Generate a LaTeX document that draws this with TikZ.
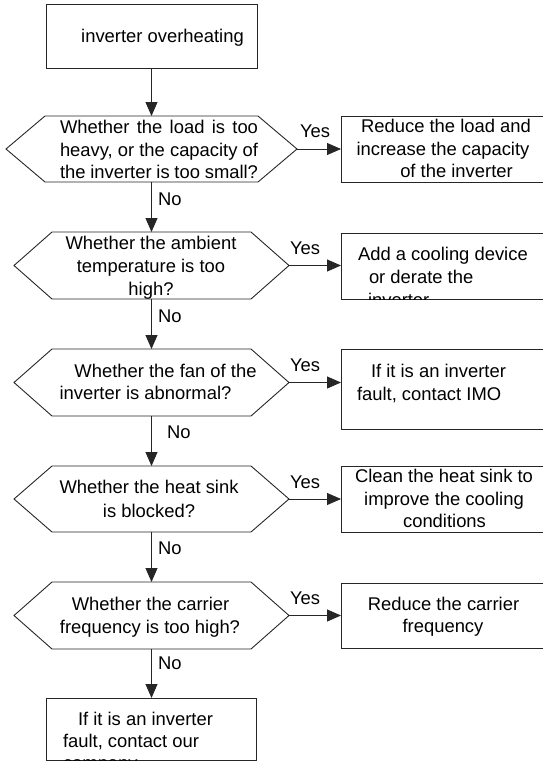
\documentclass[tikz,border=0pt]{standalone}
\usepackage{fontspec}
\setmainfont{Liberation Sans}
\usetikzlibrary{arrows.meta}
\begin{document}
\begin{tikzpicture}[x=1pt,y=-1pt,
  box/.style={draw=black!85, line width=0.9pt, rectangle, inner sep=0pt, outer sep=0pt},
  hexbb/.style={rectangle, inner sep=0pt, outer sep=0pt, draw=none},
  hexline/.style={draw=black!85, line width=0.9pt, line join=miter},
  txt/.style={inner sep=0pt, outer sep=0pt, anchor=base, font=\fontsize{18.4}{22}\selectfont, text=black},
  txtw/.style={txt, anchor=base west},
  conn/.style={draw=black!85, line width=0.9pt, -{Triangle[length=14pt,width=12pt]}}]
\useasboundingbox (0,0) rectangle (543,763);
\clip (0,0) rectangle (543,763);

% shape nodes
\node[box, minimum width=211pt, minimum height=64pt] (b0) at (151.5,36) {};
\node[hexbb, minimum width=291pt, minimum height=66pt] (h1) at (151.5,149) {};
\node[hexbb, minimum width=275pt, minimum height=67pt] (h2) at (151.5,265.5) {};
\node[hexbb, minimum width=275pt, minimum height=67pt] (h3) at (151.5,382.5) {};
\node[hexbb, minimum width=275pt, minimum height=66pt] (h4) at (151.5,499) {};
\node[hexbb, minimum width=275pt, minimum height=67pt] (h5) at (151.5,615.5) {};
\node[box, minimum width=219pt, minimum height=66pt] (r1) at (450.5,149) {};
\node[box, minimum width=219pt, minimum height=66pt] (r2) at (450.5,266) {};
\node[box, minimum width=219pt, minimum height=80pt] (r3) at (450.5,389) {};
\node[box, minimum width=219pt, minimum height=66pt] (r4) at (450.5,499) {};
\node[box, minimum width=219pt, minimum height=65pt] (r5) at (450.5,615.5) {};
\node[box, minimum width=210pt, minimum height=62pt] (b6) at (151.5,729) {};

% hexagons
\foreach \h/\d in {h1/39,h2/38,h3/38,h4/38,h5/38}{
  \draw[hexline] (\h.west) -- ([xshift=\d pt]\h.north west) -- ([xshift=-\d pt]\h.north east)
    -- (\h.east) -- ([xshift=-\d pt]\h.south east) -- ([xshift=\d pt]\h.south west) -- cycle;
}

% texts
\node[txt] (t0) at (162.5,42.5) {inverter overheating};

\node[txt] (t1a) at (159,133.5) {\makebox[198pt][s]{Whether the load is too}};
\node[txt] (t1b) at (159,156) {\makebox[198pt][s]{heavy, or the capacity of}};
\node[txt] (t1c) at (159,178) {\makebox[198pt][s]{the inverter is too small?}};

\node[txt] (s1a) at (446,132) {Reduce the load and};
\node[txt] (s1b) at (443,155) {increase the capacity};
\node[txt] (s1c) at (456.5,177) {of the inverter};

\node[txt] (t2a) at (151,249) {Whether the ambient};
\node[txt] (t2b) at (151,272) {temperature is too};
\node[txt] (t2c) at (151,295) {high?};

\begin{scope}
  \clip (r2.north west) rectangle (r2.south east);
  \node[txtw] (s2a) at (358,260) {Add a cooling device};
  \node[txtw] (s2b) at (369,283) {or derate the};
  \node[txtw] (s2c) at (368,306) {inverter};
\end{scope}

\node[txt] (t3a) at (165.5,377) {Whether the fan of the};
\node[txt] (t3b) at (145.5,399) {inverter is abnormal?};

\node[txtw] (s3a) at (371,377) {If it is an inverter};
\node[txtw] (s3b) at (357,400) {fault, contact IMO};

\node[txt] (t4a) at (149,493) {Whether the heat sink};
\node[txt] (t4b) at (149,517) {is blocked?};

\node[txt] (s4a) at (444,482) {Clean the heat sink to};
\node[txt] (s4b) at (444,505) {improve the cooling};
\node[txt] (s4c) at (444.5,527) {conditions};

\node[txt] (t5a) at (150.5,610) {Whether the carrier};
\node[txt] (t5b) at (150,633) {frequency is too high?};

\node[txt] (s5a) at (443.5,610) {Reduce the carrier};
\node[txt] (s5b) at (443,632) {frequency};

\begin{scope}
  \clip (b6.north west) rectangle (b6.south east);
  \node[txtw] (t6a) at (78,725) {If it is an inverter};
  \node[txtw] (t6b) at (63,747) {fault, contact our};
  \node[txtw] (t6c) at (63,769) {company};
\end{scope}

% connectors
\draw[conn] (b0.south) -- (h1.north);
\draw[conn] (h1.south) -- (h2.north);
\draw[conn] (h2.south) -- (h3.north);
\draw[conn] (h3.south) -- (h4.north);
\draw[conn] (h4.south) -- (h5.north);
\draw[conn] (h5.south) -- (b6.north);
\draw[conn] (h1.east) -- (h1.east -| r1.west);
\draw[conn] (h2.east) -- (h2.east -| r2.west);
\draw[conn] (h3.east) -- (h3.east -| r3.west);
\draw[conn] (h4.east) -- (h4.east -| r4.west);
\draw[conn] (h5.east) -- (h5.east -| r5.west);

% labels
\node[txtw] (y1) at (300,137) {Yes};
\node[txtw] (y2) at (290,254) {Yes};
\node[txtw] (y3) at (290,371) {Yes};
\node[txtw] (y4) at (290,488) {Yes};
\node[txtw] (y5) at (290,604) {Yes};
\node[txtw] (n1) at (158,205) {No};
\node[txtw] (n2) at (158,322) {No};
\node[txtw] (n3) at (167,438) {No};
\node[txtw] (n4) at (158,554) {No};
\node[txtw] (n5) at (158,669) {No};
\end{tikzpicture}
\end{document}
